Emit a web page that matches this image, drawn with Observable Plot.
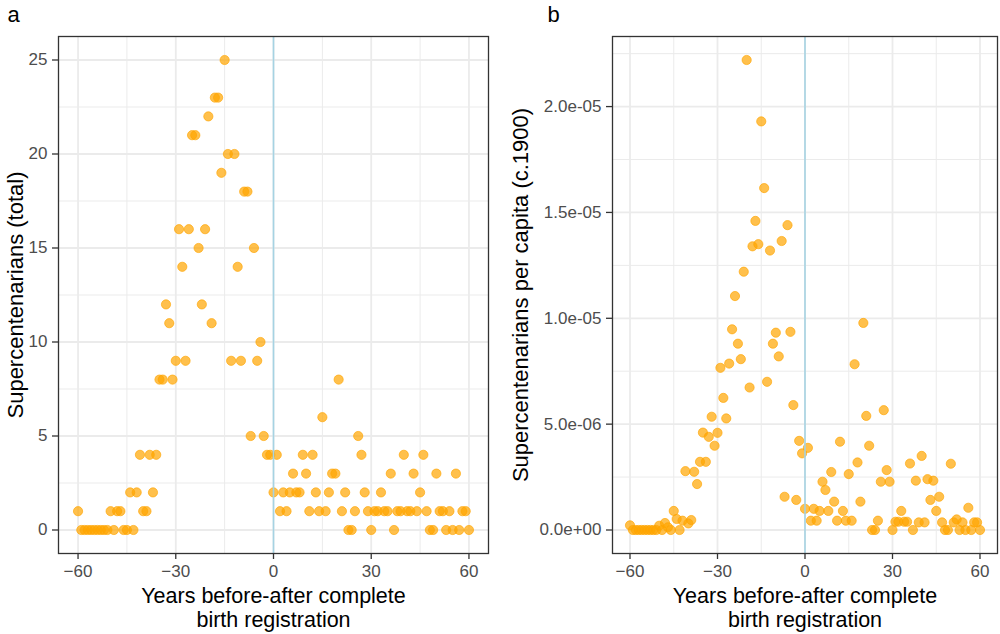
<!DOCTYPE html>
<html>
<head>
<meta charset="utf-8">
<script src="https://cdn.jsdelivr.net/npm/d3@7"></script>
<script src="https://cdn.jsdelivr.net/npm/@observablehq/plot@0.6"></script>
<style>
  html, body { margin: 0; padding: 0; background: white; }
  #wrap { position: relative; width: 1000px; height: 634px; overflow: hidden; background: white; }
  .pane { position: absolute; top: 0; }
</style>
</head>
<body>
<div id="wrap">
  <div class="pane" id="pa" style="left:0px"></div>
  <div class="pane" id="pb" style="left:500px"></div>
</div>
<script>
// ---- data ----
const years = [
  -60,-59,-58,-57,-56,-55,-54,-53,-52,-51,
  -50,-49,-48,-47,-46,-45,-44,-43,-42,-41,
  -40,-39,-38,-37,-36,-35,-34,-33,-32,-31,
  -30,-29,-28,-27,-26,-25,-24,-23,-22,-21,
  -20,-19,-18,-17,-16,-15,-14,-13,-12,-11,
  -10,-9,-8,-7,-6,-5,-4,-3,-2,-1,
  0,
  1,2,3,4,5,6,7,8,9,10,
  11,12,13,14,15,16,17,18,19,20,
  21,22,23,24,25,26,27,28,29,30,
  31,32,33,34,35,36,37,38,39,40,
  41,42,43,44,45,46,47,48,49,50,
  51,52,53,54,55,56,57,58,59,60
];
// Panel a: supercentenarians (total)
const totals = [
  1,0,0,0,0,0,0,0,0,0,
  1,0,1,1,0,0,2,0,2,4,
  1,1,4,2,4,8,8,12,11,8,
  9,16,14,9,16,21,21,15,12,16,
  22,11,23,23,19,25,20,9,20,14,
  9,18,18,5,15,9,10,5,4,4,
  2,
  4,1,2,1,2,3,2,2,4,3,
  1,4,2,1,6,1,2,3,3,8,
  1,2,0,0,1,5,4,2,1,0,
  1,1,2,1,1,3,0,1,1,4,
  1,1,3,1,2,4,1,0,0,3,
  1,1,0,1,0,3,0,1,1,0
];
// Panel b: supercentenarians per capita (c.1900), in units of 1e-6
const perCapitaE6 = [
  0.22,0,0,0,0,0,0,0,0,0,
  0.2,0,0.33,0.13,0,0.9,0.52,0,0.44,2.78,
  0.31,0.47,2.75,2.17,3.22,4.6,3.22,4.4,5.35,3.98,
  4.59,7.66,6.24,5.27,7.86,9.48,11.05,8.8,8.07,12.2,
  22.2,6.73,13.4,14.6,13.5,19.3,16.15,7.0,13.2,8.8,
  9.32,8.2,13.65,1.57,14.4,9.36,5.9,1.42,4.21,3.62,
  1.0,
  3.88,0.44,1.0,0.44,0.9,2.28,1.89,0.9,2.74,1.34,
  0.44,4.17,0.9,0.44,2.64,0.44,7.83,3.19,1.34,9.78,
  5.39,3.98,0,0,0.44,2.28,5.66,2.83,2.28,0,
  0.39,0.39,0.9,0.39,0.39,3.14,0,2.33,0.36,3.5,
  0.36,2.4,1.42,2.33,0.9,1.57,0.36,0,0,3.13,
  0.36,0.5,0,0.36,0,1.05,0,0.36,0.36,0
];
const xTicks = [-60, -30, 0, 30, 60];
const xMinor = [-45, -15, 15, 45];
const yTicksA = [0, 5, 10, 15, 20, 25];
const yMinorA = [2.5, 7.5, 12.5, 17.5, 22.5];
const yTicksB = [0, 5, 10, 15, 20];
const yMinorB = [2.5, 7.5, 12.5, 17.5, 22.5];
const yLabelsB = ["0.0e+00", "5.0e-06", "1.0e-05", "1.5e-05", "2.0e-05"];
const xTitle = "Years before-after complete\nbirth registration";
const yTitleA = "Supercentenarians (total)";
const yTitleB = "Supercentenarians per capita (c.1900)";

const dataA = years.map((yr, i) => ({year: yr, value: totals[i]}));
const dataB = years.map((yr, i) => ({year: yr, value: perCapitaE6[i]}));

function expand(lo, hi) { const e = (hi - lo) * 0.05; return [lo - e, hi + e]; }

function panel(cfg) {
  const {data, yTicks, yMinor, tickFormat, yTitle, letter, marginLeft, marginRight, yTitleX, letterX} = cfg;
  const ext = d3.extent(data, d => d.value);
  const xs = d3.extent(data, d => d.year);
  return Plot.plot({
    width: 500,
    height: 634,
    marginLeft, marginRight,
    marginTop: 36,
    marginBottom: 81,
    x: {domain: expand(xs[0], xs[1])},
    y: {domain: expand(ext[0], ext[1])},
    style: {fontFamily: "'Liberation Sans', Arial, Helvetica, sans-serif", background: "white", color: "#4d4d4d"},
    marks: [
      Plot.gridX(xMinor, {stroke: "#ebebeb", strokeOpacity: 1, strokeWidth: 1.0}),
      Plot.gridY(yMinor, {stroke: "#ebebeb", strokeOpacity: 1, strokeWidth: 1.0}),
      Plot.gridX(xTicks, {stroke: "#ebebeb", strokeOpacity: 1, strokeWidth: 1.8}),
      Plot.gridY(yTicks, {stroke: "#ebebeb", strokeOpacity: 1, strokeWidth: 1.8}),
      Plot.dot(data, {x: "year", y: "value", r: 4.6, fill: "orange", fillOpacity: 0.7,
                      stroke: "orange", strokeOpacity: 0.65, strokeWidth: 1}),
      Plot.ruleX([0], {stroke: "#a6d3e3", strokeWidth: 1.6}),
      Plot.frame({stroke: "#333333", strokeWidth: 1.3}),
      Plot.axisX(xTicks, {tickSize: 6, tickPadding: 5, fontSize: 17, stroke: "#333333", strokeWidth: 1.3,
                          fill: "#4d4d4d", label: null}),
      Plot.axisY(yTicks, {tickSize: 6, tickPadding: 5, fontSize: 17, stroke: "#333333", strokeWidth: 1.3,
                          fill: "#4d4d4d", label: null, tickFormat}),
      Plot.text([xTitle], {frameAnchor: "bottom", dy: 33, lineAnchor: "top", lineHeight: 1.1,
                           fontSize: 21.5, fill: "black", textAnchor: "middle"}),
      Plot.text([yTitle], {frameAnchor: "left", dx: yTitleX - marginLeft, rotate: -90,
                           fontSize: 22, fill: "black", textAnchor: "middle", lineAnchor: "middle"}),
      Plot.text([letter], {frameAnchor: "top-left", dx: letterX - marginLeft, dy: -30, lineAnchor: "top",
                           fontSize: 22, fill: "black", textAnchor: "start"})
    ]
  });
}

document.getElementById("pa").appendChild(panel({
  data: dataA, yTicks: yTicksA, yMinor: yMinorA, tickFormat: d => String(d),
  yTitle: yTitleA, letter: "a", marginLeft: 58, marginRight: 12, yTitleX: 15, letterX: 7
}));
document.getElementById("pb").appendChild(panel({
  data: dataB, yTicks: yTicksB, yMinor: yMinorB, tickFormat: d => yLabelsB[yTicksB.indexOf(d)],
  yTitle: yTitleB, letter: "b", marginLeft: 112, marginRight: 3, yTitleX: 20, letterX: 47
}));
</script>
</body>
</html>
